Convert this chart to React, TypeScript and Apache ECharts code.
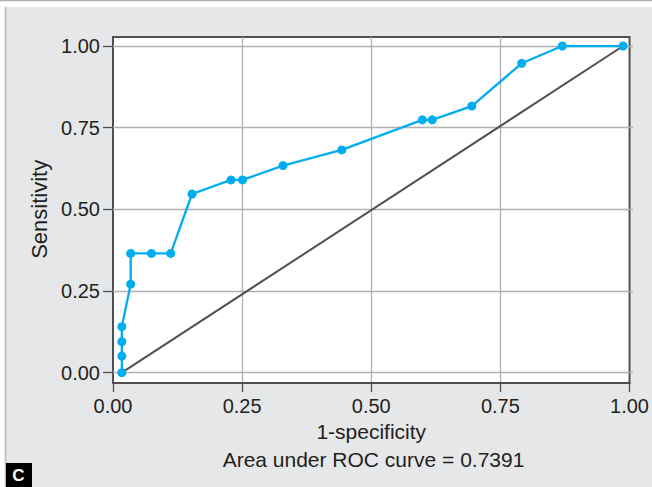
import React, { useEffect, useRef } from "react";
import * as echarts from "echarts";

const fpr = [0.017, 0.017, 0.017, 0.017, 0.034, 0.034, 0.074, 0.111, 0.152, 0.227, 0.249, 0.327, 0.44, 0.595, 0.614, 0.69, 0.786, 0.864, 0.981];
const tpr = [0, 0.051, 0.095, 0.141, 0.271, 0.365, 0.365, 0.365, 0.547, 0.59, 0.59, 0.634, 0.682, 0.774, 0.774, 0.816, 0.947, 1.0, 1.0];
const tickValues = [0, 0.25, 0.5, 0.75, 1];
const xTitle = "1-specificity";
const yTitle = "Sensitivity";
const aucText = "Area under ROC curve = 0.7391";
const panelLabel = "C";

const FONT = "'Liberation Sans', Arial, sans-serif";
const TXT = "#231f20";

export default function App() {
  const ref = useRef<HTMLDivElement>(null);
  useEffect(() => {
    const chart = echarts.init(ref.current!, null, { renderer: "svg" });
    const rocData = fpr.map((x, i) => [x, tpr[i]]);
    const diag = [rocData[0], rocData[rocData.length - 1]];
    const fmt = (v: number) => v.toFixed(2);
    const step = tickValues[1] - tickValues[0];
    chart.setOption({
      animation: false,
      backgroundColor: "#e6e7e8",
      textStyle: { fontFamily: FONT },
      grid: [
        { left: 113, top: 37, width: 520, height: 346, show: true, backgroundColor: "#ffffff", borderColor: "#505050", borderWidth: 2, z: 0 },
        { left: 113, top: 46, width: 520, height: 326.7 },
      ],
      xAxis: [
        {
          gridIndex: 0, type: "value", min: tickValues[0], max: tickValues[tickValues.length - 1], interval: step,
          axisLine: { show: true, lineStyle: { color: "#505050", width: 2 } },
          axisTick: { show: true, length: 9, inside: false, lineStyle: { color: "#505050", width: 1.3 } },
          axisLabel: { fontSize: 20, color: TXT, margin: 13, fontFamily: FONT, formatter: fmt, showMinLabel: true, showMaxLabel: true },
          splitLine: { show: true, showMinLine: false, showMaxLine: false, lineStyle: { color: "#b0b0b0", width: 1.3 } },
          name: xTitle, nameLocation: "middle", nameGap: 36,
          nameTextStyle: { fontSize: 21, color: TXT, fontFamily: FONT },
        },
        { gridIndex: 1, type: "value", min: 0, max: 1, show: false },
      ],
      yAxis: [
        { gridIndex: 0, type: "value", min: 0, max: 1, show: false },
        {
          gridIndex: 1, type: "value", min: tickValues[0], max: tickValues[tickValues.length - 1], interval: step,
          axisLine: { show: false },
          axisTick: { show: true, length: 10, inside: false, lineStyle: { color: "#505050", width: 1.3 } },
          axisLabel: { fontSize: 20, color: TXT, margin: 13, fontFamily: FONT, formatter: fmt },
          splitLine: { show: true, lineStyle: { color: "#b0b0b0", width: 1.3 } },
          name: yTitle, nameLocation: "middle", nameGap: 62, nameRotate: 90,
          nameTextStyle: { fontSize: 22, color: TXT, fontFamily: FONT },
        },
      ],
      graphic: [
        { type: "rect", shape: { x: 0, y: 0, width: 652, height: 7 }, style: { fill: "#ffffff" }, z: -5 },
        { type: "rect", shape: { x: 0, y: 0, width: 5, height: 487 }, style: { fill: "#ffffff" }, z: -5 },
        { type: "line", shape: { x1: 0, y1: 0.5, x2: 652, y2: 0.5 }, style: { stroke: "#b0b0b0", lineWidth: 1.5 }, z: -4 },
        { type: "line", shape: { x1: 5.5, y1: 7, x2: 5.5, y2: 487 }, style: { stroke: "#b8b8b8", lineWidth: 1.5 }, z: -4 },
        { type: "rect", shape: { x: 6, y: 463, width: 26, height: 24 }, style: { fill: "#000000" }, z: 10 },
        { type: "text", x: 18.5, y: 475.5, style: { text: panelLabel, fill: "#ffffff", font: `bold 17px ${FONT}`, textAlign: "center", textVerticalAlign: "middle" }, z: 11 },
        { type: "text", x: 373.5, y: 459.7, style: { text: aucText, fill: TXT, font: `21px ${FONT}`, textAlign: "center", textVerticalAlign: "middle" }, z: 11 },
      ],
      series: [
        {
          type: "line", xAxisIndex: 1, yAxisIndex: 1, data: diag, symbol: "none",
          lineStyle: { color: "#505050", width: 2 }, z: 3, silent: true,
        },
        {
          type: "line", xAxisIndex: 1, yAxisIndex: 1, data: rocData, symbol: "circle", symbolSize: 9,
          itemStyle: { color: "#00aeef" }, lineStyle: { color: "#00aeef", width: 2.3 }, z: 4,
        },
      ],
    });
    return () => chart.dispose();
  }, []);
  return <div ref={ref} style={{ position: "fixed", left: 0, top: 0, width: 652, height: 487 }} />;
}
